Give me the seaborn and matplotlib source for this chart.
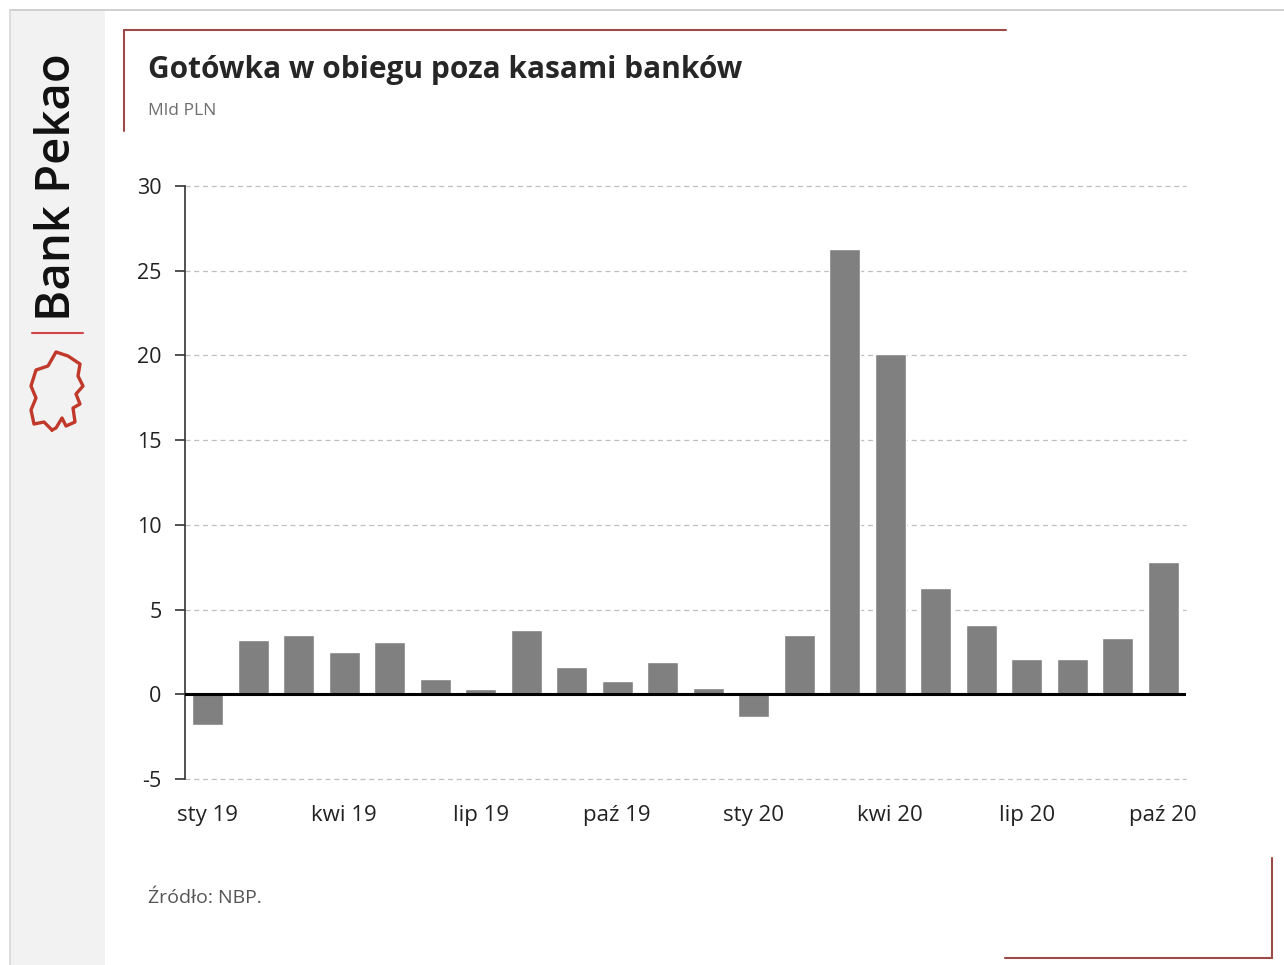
import matplotlib
matplotlib.use("Agg")
import matplotlib.pyplot as plt
import seaborn as sns
import pandas as pd
from matplotlib.lines import Line2D
from matplotlib.patches import Rectangle

months = ["sty 19", "lut 19", "mar 19", "kwi 19", "maj 19", "cze 19", "lip 19", "sie 19",
          "wrz 19", "paź 19", "lis 19", "gru 19", "sty 20", "lut 20", "mar 20", "kwi 20",
          "maj 20", "cze 20", "lip 20", "sie 20", "wrz 20", "paź 20"]
values = [-1.8, 3.2, 3.5, 2.5, 3.1, 0.9, 0.3, 3.8, 1.6, 0.8, 1.9, 0.4,
          -1.35, 3.5, 26.3, 20.1, 6.3, 4.1, 2.1, 2.1, 3.3, 7.8]
shown_labels = ["sty 19", "kwi 19", "lip 19", "paź 19", "sty 20", "kwi 20", "lip 20", "paź 20"]
yticks = [-5, 0, 5, 10, 15, 20, 25, 30]

title = "Gotówka w obiegu poza kasami banków"
subtitle = "Mld PLN"
source = "Źródło: NBP."
brand = "Bank Pekao"

sns.set_theme(style="white")
plt.rcParams['font.family'] = ['Open Sans', 'DejaVu Sans']

W, H = 1284, 965
fig = plt.figure(figsize=(W / 100, H / 100), dpi=100)
fig.patch.set_facecolor("white")

def fx(px):
    return px / W

def fy(py):
    return 1 - py / H

# left gray strip and outer border
fig.add_artist(Rectangle((fx(10), 0), fx(95), fy(10), transform=fig.transFigure,
                         facecolor="#f2f2f2", edgecolor="none", zorder=0))
fig.add_artist(Line2D([fx(10), 1], [fy(10), fy(10)], transform=fig.transFigure, color="#c8c8c8", lw=1.2))
fig.add_artist(Line2D([fx(10), fx(10)], [0, fy(10)], transform=fig.transFigure, color="#d8d8d8", lw=1.2))

# red brackets
red = "#9c4a4a"
fig.add_artist(Line2D([fx(124), fx(1006)], [fy(30), fy(30)], transform=fig.transFigure, color=red, lw=1.5))
fig.add_artist(Line2D([fx(124), fx(124)], [fy(30), fy(131)], transform=fig.transFigure, color=red, lw=1.5))
fig.add_artist(Line2D([fx(1005), fx(1272)], [fy(958), fy(958)], transform=fig.transFigure, color=red, lw=1.5))
fig.add_artist(Line2D([fx(1272), fx(1272)], [fy(858), fy(958)], transform=fig.transFigure, color=red, lw=1.5))

# brand
fig.text(fx(58), fy(187), brand, rotation=90, ha="center", va="center", fontsize=34,
         fontweight="semibold", color="#111111")
fig.add_artist(Line2D([fx(32), fx(83)], [fy(333), fy(333)], transform=fig.transFigure, color="#d04545", lw=1.5))
# simple logo outline
lx = [52, 44, 34, 31, 36, 31, 36, 48, 56, 68, 80, 78, 83, 76, 80, 73, 75, 66, 62, 56, 52]
ly = [430, 422, 424, 410, 398, 386, 370, 366, 352, 356, 364, 376, 386, 394, 404, 408, 422, 426, 418, 428, 430]
fig.add_artist(Line2D([fx(v) for v in lx], [fy(v) for v in ly], transform=fig.transFigure,
                      color="#c0392b", lw=2.4))

# titles
fig.text(fx(148), fy(70), title, ha="left", va="center", fontsize=21.5, fontweight="bold", color="#262626")
fig.text(fx(148), fy(111), subtitle, ha="left", va="center", fontsize=12.5, color="#6e6e6e")
fig.text(fx(148), fy(898), source, ha="left", va="center", fontsize=14, color="#555555")

# axes
ax = fig.add_axes([fx(185), fy(779), fx(1186) - fx(185), fy(186) - fy(779)])
df = pd.DataFrame({"month": months, "value": values})
sns.barplot(data=df, x="month", y="value", color="#808080", saturation=1, width=0.68, ax=ax, zorder=3)

ax.set_xlim(-0.5, len(months) - 0.5)
ax.set_ylim(-5, 30)
ax.set_yticks(yticks)
ax.set_yticklabels([str(v) for v in yticks], fontsize=15.5, color="#222222")
pos = [months.index(m) for m in shown_labels]
ax.set_xticks(pos)
ax.set_xticklabels(shown_labels, fontsize=16, color="#222222")
ax.tick_params(axis="x", length=0, pad=19)
ax.tick_params(axis="y", length=7, width=1.2, color="#333333", direction="out", pad=10, left=True)
ax.set_xlabel("")
ax.set_ylabel("")

for y in yticks:
    if y != 0:
        ax.axhline(y, color="#bfbfbf", lw=0.9, ls=(0, (4, 3)), zorder=1, clip_on=False)
ax.axhline(0, color="black", lw=2.2, zorder=4)

for s in ["top", "right", "bottom"]:
    ax.spines[s].set_visible(False)
ax.spines["left"].set_color("#333333")
ax.spines["left"].set_linewidth(1.2)
ax.set_facecolor("white")
ax.patch.set_alpha(0)

fig.savefig("out.png", dpi=100, facecolor="white")
